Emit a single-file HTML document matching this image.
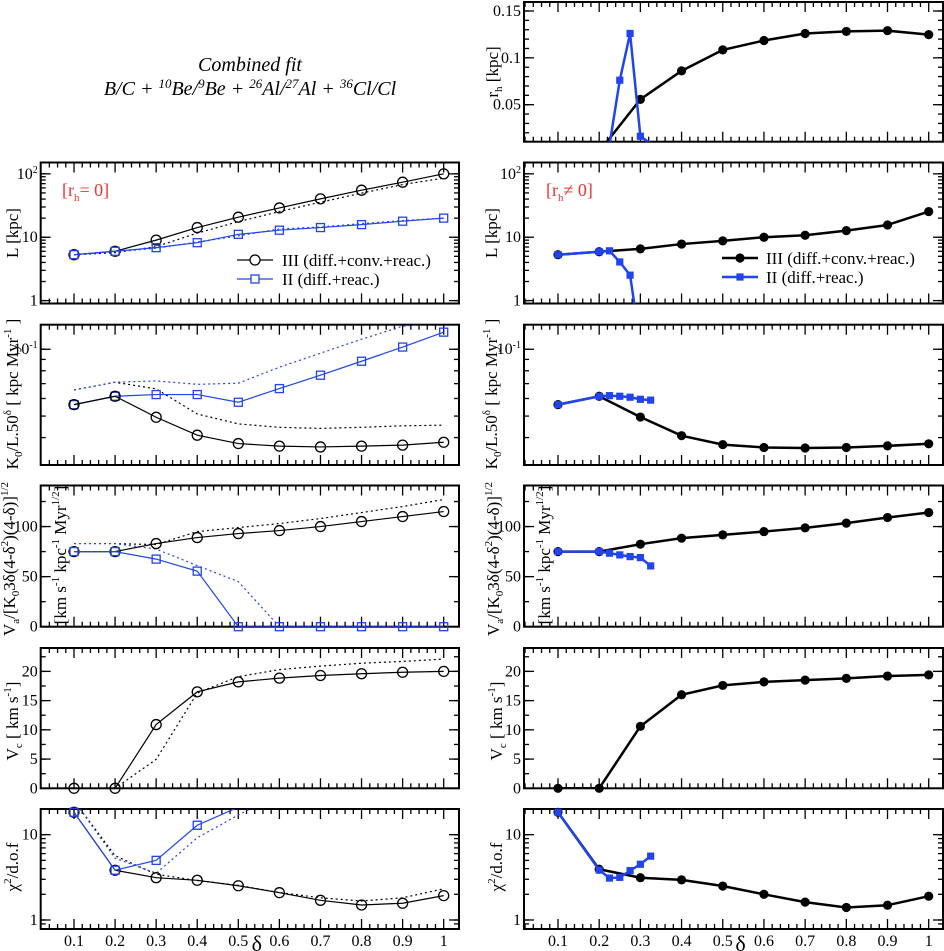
<!DOCTYPE html>
<html><head><meta charset="utf-8"><style>
html,body{margin:0;padding:0;background:#fff}
svg{display:block;font-family:"Liberation Serif","DejaVu Serif","Noto Serif CJK SC","Times New Roman",serif}
</style></head><body>
<svg id="fig" width="944" height="951" viewBox="0 0 944 951"></svg>
<script>
const delta = [0.1,0.2,0.3,0.4,0.5,0.6,0.7,0.8,0.9,1.0];
const deltaII = [0.1,0.2,0.225,0.25,0.275,0.3,0.325];
const xTickLabels = ["0.1","0.2","0.3","0.4","0.5","0.6","0.7","0.8","0.9","1"];
// Left column (r_h = 0)
const L_III = [5.3,6.0,9.0,14.2,20.7,29,40.3,55.2,73.8,100];
const L_II = [5.3,6.0,6.85,8.2,11.1,12.9,14.2,15.8,17.9,20];
const L_IIIdot = [5.3,5.7,7.1,11.6,17.6,25.4,35.7,49.6,67.8,85.5];
const L_IIdot = [5.3,5.9,6.7,8.4,10.5,13.5,14.5,16.4,18.3,20];
const K_III = [0.0563,0.0614,0.0494,0.041,0.0376,0.0366,0.0363,0.0366,0.037,0.0381];
const K_II = [0.0563,0.0614,0.0625,0.0625,0.0577,0.0665,0.0764,0.0883,0.1023,0.1194];
const K_IIIdot = [0.0656,0.071,0.0663,0.0511,0.0461,0.0445,0.044,0.0445,0.0452,0.0455];
const K_IIdot = [0.0656,0.071,0.072,0.0695,0.0703,0.083,0.096,0.111,0.127,0.132];
const V_III = [75,75,83,89,93,96,100,105,110,115];
const V_II = [75,75,67.5,55.5,0,0,0,0,0,0];
const V_IIIdot = [83,83,82,95,99,103,108,114,120,127];
const V_IIdot = [83,83,77.5,61,45,0,0,0,0,0];
const Vc_III = [0,0,10.9,16.5,18.2,18.85,19.3,19.6,19.85,20];
const Vc_IIIdot = [0,0,4.95,16.3,19.1,20.3,20.9,21.4,21.7,22.1];
const C_III = [18.3,3.83,3.13,2.92,2.52,2.09,1.70,1.50,1.57,1.93];
const C_II = [18.3,3.83,5.0,12.9,21,30,40,50,60,70];
const C_IIIdot = [25,5.67,3.44,2.9,2.55,2.1,1.82,1.67,1.82,2.32];
const C_IIdot = [25,5.3,3.53,9.2,17,30,40,50,60,70];
// Right column (r_h != 0)
const R_rh_III = [0,0,0.0557,0.0861,0.1085,0.1185,0.126,0.1282,0.129,0.1248];
const R_rh_II = [0,0,0.007,0.0761,0.126,0.0163,0.0085];
const R_L_III = [5.3,5.9,6.55,7.8,8.75,10,10.75,12.7,15.6,25.4];
const R_L_II = [5.3,5.9,6.1,4.07,2.52,0.2,0.2];
const R_K_III = [0.0563,0.0614,0.0495,0.0408,0.0372,0.0361,0.0359,0.0361,0.0367,0.0375];
const R_K_II = [0.0563,0.0614,0.0618,0.0614,0.0608,0.0595,0.059];
const R_V_III = [75,75,82.4,88.4,91.7,95,98.7,103.4,109,114];
const R_V_II = [75,75,73.4,71.7,70,69,60.7];
const R_Vc_III = [0,0,10.6,16.0,17.6,18.2,18.5,18.8,19.2,19.4];
const R_C_III = [18.3,3.93,3.13,2.95,2.5,2.0,1.62,1.40,1.49,1.9];
const R_C_II = [18.3,3.85,3.1,3.16,3.79,4.5,5.6];
// tick values
const ticksL = [1,10,100];
const ticksK = [0.1];
const ticksV = [0,50,100];
const ticksVc = [0,5,10,15,20];
const ticksC = [1,10];
const ticksRh = [0.05,0.1,0.15];

const NS="http://www.w3.org/2000/svg";
const svg=document.getElementById('fig');
function mk(tag,attrs,parent){const e=document.createElementNS(NS,tag);for(const k in attrs)e.setAttribute(k,attrs[k]);(parent||svg).appendChild(e);return e;}
const BLUE="#2244ee";
const cols={left:{x0:40.7,x1:459,d0:74,d1:443.7},right:{x0:524,x1:943,d0:558,d1:928.7}};
function xs(col,d){const c=cols[col];return c.d0+(d-0.1)/0.9*(c.d1-c.d0);}
const rows={
 rh:{t:2,b:141.7,log:false,min:0.0105,max:0.1596},
 L:{t:162.5,b:303.5,log:true,min:0.9,max:151},
 K:{t:324.7,b:465,log:true,min:0.0301,max:0.129},
 V:{t:485.5,b:626.7,log:false,min:0,max:141},
 Vc:{t:648,b:788.3,log:false,min:0,max:24},
 C:{t:809,b:929,log:true,min:0.784,max:20}};
function ys(row,v){const r=rows[row];
 if(r.log){return r.b-(Math.log10(v)-Math.log10(r.min))/(Math.log10(r.max)-Math.log10(r.min))*(r.b-r.t);}
 return r.b-(v-r.min)/(r.max-r.min)*(r.b-r.t);}
let clipN=0;
function panel(col,row,majors,labels,minors,name){
 const c=cols[col],r=rows[row];
 const g=mk('g',{});
 
 
 const id='clip'+(clipN++);
 const cp=mk('clipPath',{id:id},g);mk('rect',{x:c.x0,y:r.t,width:c.x1-c.x0,height:r.b-r.t},cp);
 for(let i=0;i<=50;i++){const d=0.02*i;const x=xs(col,d);if(x<c.x0+1||x>c.x1-1)continue;
  const maj=(i%5===0);const len=maj?10:5;
  mk('line',{x1:x,x2:x,y1:r.b,y2:r.b-len,stroke:'#000','stroke-width':1.3},g);
  mk('line',{x1:x,x2:x,y1:r.t,y2:r.t+len,stroke:'#000','stroke-width':1.3},g);}
 minors.forEach(v=>{const y=ys(row,v);if(y<r.t+1||y>r.b-1)return;
  mk('line',{x1:c.x0,x2:c.x0+5,y1:y,y2:y,stroke:'#000','stroke-width':1.3},g);
  mk('line',{x1:c.x1,x2:c.x1-5,y1:y,y2:y,stroke:'#000','stroke-width':1.3},g);});
 majors.forEach((v,i)=>{const y=ys(row,v);
  mk('line',{x1:c.x0,x2:c.x0+10,y1:y,y2:y,stroke:'#000','stroke-width':1.3},g);
  mk('line',{x1:c.x1,x2:c.x1-10,y1:y,y2:y,stroke:'#000','stroke-width':1.3},g);
  const t=mk('text',{x:c.x0-3,y:y+5,'text-anchor':'end','font-size':16},g);
  const lab=labels[i];
  if(lab.indexOf('^')>=0){const p=lab.split('^');t.appendChild(document.createTextNode(p[0]));
   const s=mk('tspan',{'font-size':10,dy:-6},t);s.textContent=p[1];}
  else t.textContent=lab;
  
  });
 mk('rect',{x:c.x0,y:r.t,width:c.x1-c.x0,height:r.b-r.t,fill:'none',stroke:'#000','stroke-width':2},g);
 return {g:g,clip:id,col:col,row:row};
}
function series(p,dx,vals,opt){
 const c=cols[p.col],r=rows[p.row];
 const pts=dx.map((d,i)=>[xs(p.col,d),ys(p.row,Math.max(vals[i],1e-6))]);
 const pl=mk('polyline',{points:pts.map(q=>q.join(',')).join(' '),fill:'none',stroke:opt.color,'stroke-width':opt.w,'clip-path':'url(#'+p.clip+')','stroke-dasharray':opt.dash||'none'},p.g);
 
 
 if(!opt.marker)return;
 pts.forEach(q=>{if(q[1]<r.t-1||q[1]>r.b+1)return;
  let m;
  if(opt.marker==='oc')m=mk('circle',{cx:q[0],cy:q[1],r:5,fill:'none',stroke:opt.color,'stroke-width':1.3},p.g);
  else if(opt.marker==='os')m=mk('rect',{x:q[0]-4,y:q[1]-4,width:8,height:8,fill:'none',stroke:opt.color,'stroke-width':1.3},p.g);
  else if(opt.marker==='fc')m=mk('circle',{cx:q[0],cy:q[1],r:4.6,fill:opt.color},p.g);
  else m=mk('rect',{x:q[0]-3.6,y:q[1]-3.6,width:7.2,height:7.2,fill:opt.color},p.g);
  
  });
}
function logMinors(lo,hi){const a=[];for(let e=lo;e<hi;e++)for(let k=1;k<10;k++)a.push(k*Math.pow(10,e));return a;}
function lin(a,b,s){const r=[];for(let v=a;v<=b+1e-9;v+=s)r.push(v);return r;}
const lm=logMinors(-1,3), km=logMinors(-2,0);
const pL=panel('left','L',ticksL,['1','10','10^2'],lm,'left-L-panel');
series(pL,delta,L_IIIdot,{color:'#000',w:1.2,dash:'2,3',name:'left-L-III-dotted'});
series(pL,delta,L_IIdot,{color:BLUE,w:1.2,dash:'2,3',name:'left-L-II-dotted'});
series(pL,delta,L_III,{color:'#000',w:1.2,marker:'oc',name:'left-L-III'});
series(pL,delta,L_II,{color:BLUE,w:1.2,marker:'os',name:'left-L-II'});
const pK=panel('left','K',ticksK,['10^-1'],km,'left-K0-panel');
series(pK,delta,K_IIIdot,{color:'#000',w:1.2,dash:'2,3',name:'left-K-III-dotted'});
series(pK,delta,K_IIdot,{color:BLUE,w:1.2,dash:'2,3',name:'left-K-II-dotted'});
series(pK,delta,K_II,{color:BLUE,w:1.2,marker:'os',name:'left-K-II'});
series(pK,delta,K_III,{color:'#000',w:1.2,marker:'oc',name:'left-K-III'});
const pV=panel('left','V',ticksV,['0','50','100'],lin(0,140,25),'left-Va-panel');
series(pV,delta,V_IIIdot,{color:'#000',w:1.2,dash:'2,3',name:'left-Va-III-dotted'});
series(pV,delta,V_IIdot,{color:BLUE,w:1.2,dash:'2,3',name:'left-Va-II-dotted'});
series(pV,delta,V_III,{color:'#000',w:1.2,marker:'oc',name:'left-Va-III'});
series(pV,delta,V_II,{color:BLUE,w:1.2,marker:'os',name:'left-Va-II'});
const pVc=panel('left','Vc',ticksVc,['0','5','10','15','20'],lin(0,24,2.5),'left-Vc-panel');
series(pVc,delta,Vc_IIIdot,{color:'#000',w:1.2,dash:'2,3',name:'left-Vc-III-dotted'});
series(pVc,delta,Vc_III,{color:'#000',w:1.2,marker:'oc',name:'left-Vc-III'});
const pC=panel('left','C',ticksC,['1','10'],lm,'left-chi2-panel');
series(pC,delta,C_IIIdot,{color:'#000',w:1.2,dash:'2,3',name:'left-chi2-III-dotted'});
series(pC,delta,C_IIdot,{color:BLUE,w:1.2,dash:'2,3',name:'left-chi2-II-dotted'});
series(pC,delta,C_III,{color:'#000',w:1.2,marker:'oc',name:'left-chi2-III'});
series(pC,delta,C_II,{color:BLUE,w:1.2,marker:'os',name:'left-chi2-II'});
const qR=panel('right','rh',ticksRh,['0.05','0.1','0.15'],lin(0.01,0.16,0.01),'right-rh-panel');
series(qR,delta,R_rh_III,{color:'#000',w:2.5,marker:'fc',name:'right-rh-III'});
series(qR,deltaII,R_rh_II,{color:BLUE,w:2.5,marker:'fs',name:'right-rh-II'});
const qL=panel('right','L',ticksL,['1','10','10^2'],lm,'right-L-panel');
series(qL,delta,R_L_III,{color:'#000',w:2.5,marker:'fc',name:'right-L-III'});
series(qL,deltaII,R_L_II,{color:BLUE,w:2.5,marker:'fs',name:'right-L-II'});
const qK=panel('right','K',ticksK,['10^-1'],km,'right-K0-panel');
series(qK,delta,R_K_III,{color:'#000',w:2.5,marker:'fc',name:'right-K-III'});
series(qK,deltaII,R_K_II,{color:BLUE,w:2.5,marker:'fs',name:'right-K-II'});
const qV=panel('right','V',ticksV,['0','50','100'],lin(0,140,25),'right-Va-panel');
series(qV,delta,R_V_III,{color:'#000',w:2.5,marker:'fc',name:'right-Va-III'});
series(qV,deltaII,R_V_II,{color:BLUE,w:2.5,marker:'fs',name:'right-Va-II'});
const qVc=panel('right','Vc',ticksVc,['0','5','10','15','20'],lin(0,24,2.5),'right-Vc-panel');
series(qVc,delta,R_Vc_III,{color:'#000',w:2.5,marker:'fc',name:'right-Vc-III'});
const qC=panel('right','C',ticksC,['1','10'],lm,'right-chi2-panel');
series(qC,delta,R_C_III,{color:'#000',w:2.5,marker:'fc',name:'right-chi2-III'});
series(qC,deltaII,R_C_II,{color:BLUE,w:2.5,marker:'fs',name:'right-chi2-II'});
['left','right'].forEach(col=>{
 delta.forEach((d,i)=>{const t=mk('text',{x:xs(col,d),y:946,'text-anchor':'middle','font-size':16});t.textContent=xTickLabels[i];
  
  });
 const dl=mk('text',{x:(cols[col].x0+cols[col].x1)/2+7,y:951,'text-anchor':'middle','font-size':22});dl.textContent='δ';
 
 
});
</script>
<svg width="944" height="951" style="position:absolute;left:0;top:0;font-family:'Liberation Serif','DejaVu Serif','Noto Serif CJK SC','Times New Roman',serif">
 <g font-style="italic" text-anchor="middle">
  <text x="250" y="71" font-size="20">Combined fit</text>
  <text x="250" y="95" font-size="20">B/C + <tspan font-size="13" dy="-7">10</tspan><tspan dy="7">Be/</tspan><tspan font-size="13" dy="-7">9</tspan><tspan dy="7">Be + </tspan><tspan font-size="13" dy="-7">26</tspan><tspan dy="7">Al/</tspan><tspan font-size="13" dy="-7">27</tspan><tspan dy="7">Al + </tspan><tspan font-size="13" dy="-7">36</tspan><tspan dy="7">Cl/Cl</tspan></text>
 </g>
 <text x="62" y="196" font-size="18" fill="#ee3333">[r<tspan font-size="11" dy="5">h</tspan><tspan dy="-5">= 0]</tspan></text>
 <text x="546" y="196" font-size="18" fill="#ee3333">[r<tspan font-size="11" dy="5">h</tspan><tspan dy="-5">≠ 0]</tspan></text>
 <g font-size="17">
  <line x1="237" y1="260" x2="273" y2="260" stroke="#000" stroke-width="1.2"/><circle cx="255" cy="260" r="5" fill="#fff" stroke="#000" stroke-width="1.3"/>
  <text x="282" y="266">III (diff.+conv.+reac.)</text>
  <line x1="237" y1="279" x2="273" y2="279" stroke="#2244ee" stroke-width="1.2"/><rect x="251" y="275" width="8" height="8" fill="#fff" stroke="#2244ee" stroke-width="1.3"/>
  <text x="282" y="285">II (diff.+reac.)</text>
 </g>
 <g font-size="17">
  <line x1="722" y1="258" x2="758" y2="258" stroke="#000" stroke-width="2.5"/><circle cx="740" cy="258" r="4.6" fill="#000"/>
  <text x="766" y="264">III (diff.+conv.+reac.)</text>
  <line x1="722" y1="277" x2="758" y2="277" stroke="#2244ee" stroke-width="2.5"/><rect x="736.4" y="273.4" width="7.2" height="7.2" fill="#2244ee"/>
  <text x="766" y="283">II (diff.+reac.)</text>
 </g>
 <g font-size="17" text-anchor="middle">
  <text transform="translate(498,72) rotate(-90)">r<tspan font-size="11" dy="4">h</tspan><tspan dy="-4">  [kpc]</tspan></text>
  <text transform="translate(18,233) rotate(-90)">L [kpc]</text>
  <text transform="translate(497,233) rotate(-90)">L [kpc]</text>
  <text transform="translate(18,394) rotate(-90)">K<tspan font-size="11" dy="4">0</tspan><tspan dy="-4">/L.50</tspan><tspan font-size="11" dy="-7">δ</tspan><tspan dy="7">  [ kpc Myr</tspan><tspan font-size="11" dy="-7">-1</tspan><tspan dy="7"> ]</tspan></text>
  <text transform="translate(497,394) rotate(-90)">K<tspan font-size="11" dy="4">0</tspan><tspan dy="-4">/L.50</tspan><tspan font-size="11" dy="-7">δ</tspan><tspan dy="7">  [ kpc Myr</tspan><tspan font-size="11" dy="-7">-1</tspan><tspan dy="7"> ]</tspan></text>
  <text transform="translate(15,559) rotate(-90)">V<tspan font-size="11" dy="4">a</tspan><tspan dy="-4">/[K</tspan><tspan font-size="11" dy="4">0</tspan><tspan dy="-4">3δ(4-δ</tspan><tspan font-size="11" dy="-7">2</tspan><tspan dy="7">)(4-δ)]</tspan><tspan font-size="11" dy="-7">1/2</tspan></text>
  <text transform="translate(66,555) rotate(-90)">[km s<tspan font-size="11" dy="-7">-1</tspan><tspan dy="7"> kpc</tspan><tspan font-size="11" dy="-7">-1</tspan><tspan dy="7"> Myr</tspan><tspan font-size="11" dy="-7">1/2</tspan><tspan dy="7">]</tspan></text>
  <text transform="translate(499,559) rotate(-90)">V<tspan font-size="11" dy="4">a</tspan><tspan dy="-4">/[K</tspan><tspan font-size="11" dy="4">0</tspan><tspan dy="-4">3δ(4-δ</tspan><tspan font-size="11" dy="-7">2</tspan><tspan dy="7">)(4-δ)]</tspan><tspan font-size="11" dy="-7">1/2</tspan></text>
  <text transform="translate(550,555) rotate(-90)">[km s<tspan font-size="11" dy="-7">-1</tspan><tspan dy="7"> kpc</tspan><tspan font-size="11" dy="-7">-1</tspan><tspan dy="7"> Myr</tspan><tspan font-size="11" dy="-7">1/2</tspan><tspan dy="7">]</tspan></text>
  <text transform="translate(18,721) rotate(-90)">V<tspan font-size="11" dy="4">c</tspan><tspan dy="-4"> [ km s</tspan><tspan font-size="11" dy="-7">-1</tspan><tspan dy="7">]</tspan></text>
  <text transform="translate(502,721) rotate(-90)">V<tspan font-size="11" dy="4">c</tspan><tspan dy="-4"> [ km s</tspan><tspan font-size="11" dy="-7">-1</tspan><tspan dy="7">]</tspan></text>
  <text transform="translate(18,867) rotate(-90)">χ<tspan font-size="11" dy="-7">2</tspan><tspan dy="7">/d.o.f</tspan></text>
  <text transform="translate(502,867) rotate(-90)">χ<tspan font-size="11" dy="-7">2</tspan><tspan dy="7">/d.o.f</tspan></text>
 </g>
</svg>
</body></html>
